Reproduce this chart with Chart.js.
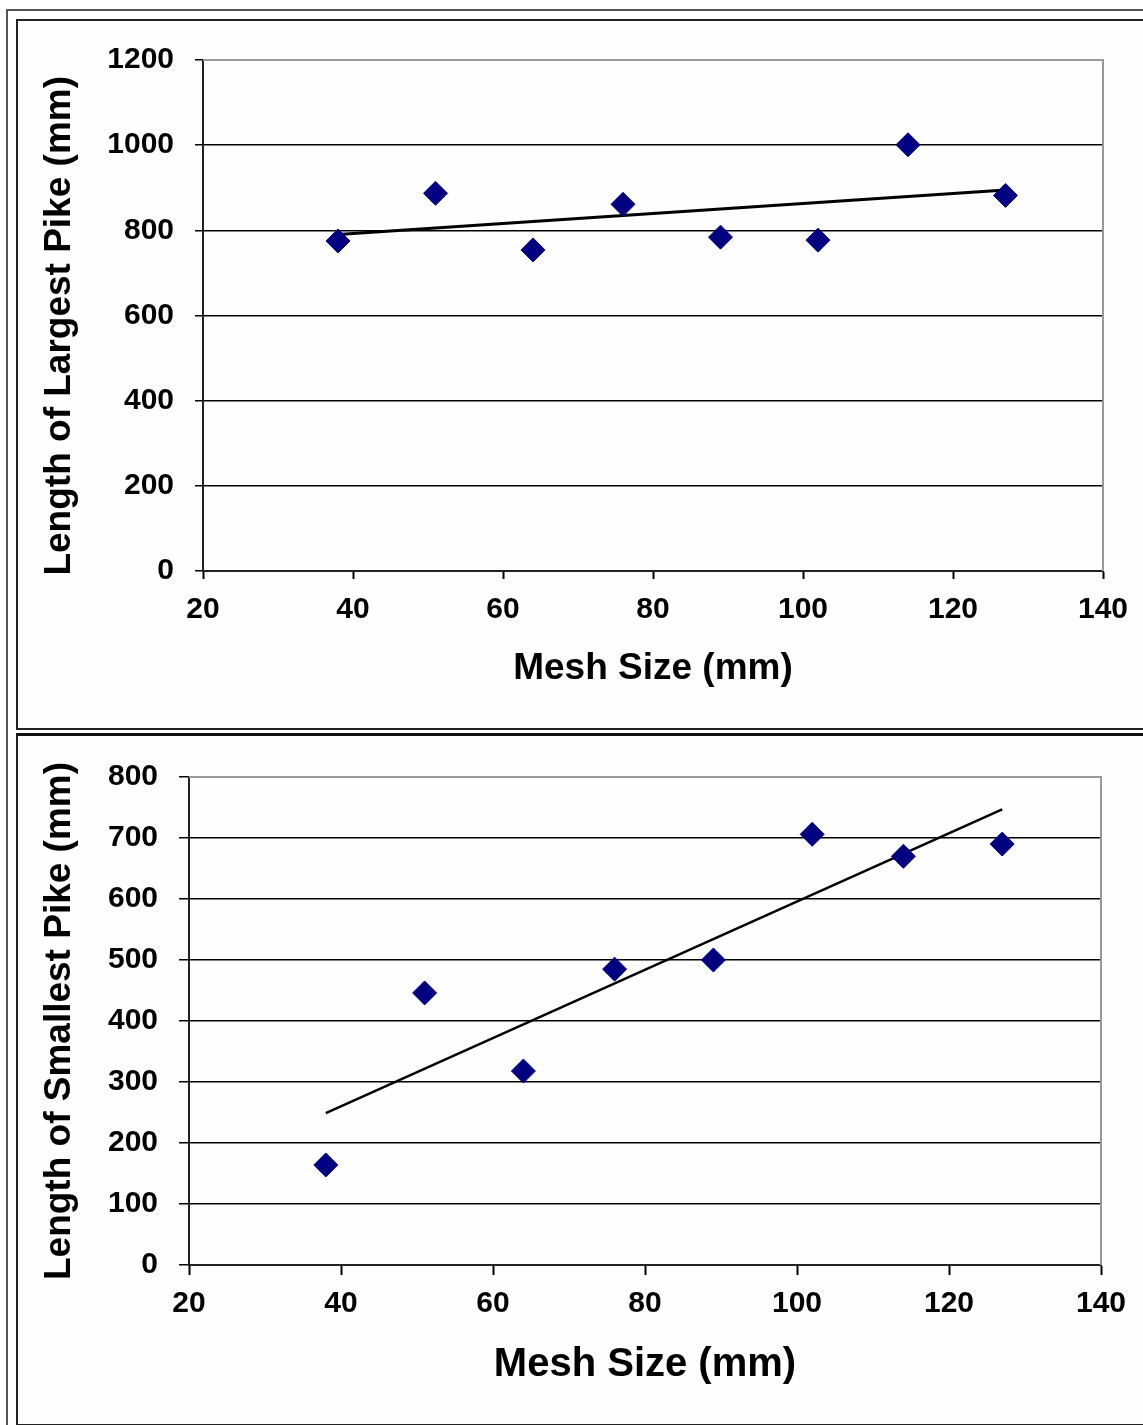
<!DOCTYPE html>
<html>
<head>
<meta charset="utf-8">
<script src="https://cdn.jsdelivr.net/npm/chart.js@4"></script>
<style>
  body { margin: 0; background: #fff; }
  .frame { position: absolute; left: 6px; top: 9px; width: 1200px; height: 1500px; border-left: 2px solid #555; border-top: 2px solid #555; }
  .box { position: absolute; left: 16px; width: 1200px; border: 2px solid #222; background: #fefefe; }
  #box1 { top: 19px; height: 707px; }
  #box2 { top: 733px; height: 688px; border-top: 3px solid #111; }
  canvas { position: absolute; left: 0; top: 0; }
</style>
</head>
<body>
<div class="frame"></div>
<div class="box" id="box1"><canvas id="chart1" width="1125" height="707"></canvas></div>
<div class="box" id="box2"><canvas id="chart2" width="1125" height="685"></canvas></div>
<script>
// mesh sizes (mm) used for both charts
var meshSizes = [38, 51, 64, 76, 89, 102, 114, 127];
// lengths (mm)
var largestPike = [775, 887, 754, 861, 784, 777, 1001, 882];
var smallestPike = [164, 446, 318, 485, 500, 706, 670, 690];
// trend line ends, at the first and last mesh size
var trendX = [38, 127];
var largestTrend = [790, 895];
var smallestTrend = [249, 747];

var fontFamily = "'Liberation Sans', Arial, sans-serif";

function toPoints(xs, ys) {
    return xs.map(function (x, i) { return { x: x, y: ys[i] }; });
}

// grey top and right edges of the plot area
var areaBorder = {
    id: 'areaBorder',
    afterDraw: function (chart) {
        var a = chart.chartArea, c = chart.ctx;
        c.save();
        c.strokeStyle = '#999';
        c.lineWidth = 2;
        c.beginPath();
        c.moveTo(a.left, a.top);
        c.lineTo(a.right, a.top);
        c.lineTo(a.right, a.bottom);
        c.stroke();
        c.restore();
    }
};

function plainNumber(v) { return String(v); }

function makeChart(id, values, trend, yTitle, opt) {
    var ctx = document.getElementById(id).getContext('2d');
    return new Chart(ctx, {
        type: 'scatter',
        data: {
            datasets: [
                {
                    data: toPoints(meshSizes, values),
                    pointStyle: 'rectRot',
                    pointRadius: 12,
                    backgroundColor: '#000080',
                    borderColor: '#000080',
                    borderWidth: 1,
                    showLine: false
                },
                {
                    data: toPoints(trendX, trend),
                    showLine: true,
                    pointRadius: 0,
                    borderColor: '#000',
                    borderWidth: opt.lineWidth
                }
            ]
        },
        options: {
            responsive: false,
            animation: false,
            devicePixelRatio: 1,
            layout: { padding: { left: 0, top: opt.top, right: opt.right, bottom: 0 } },
            plugins: { legend: { display: false }, tooltip: { enabled: false } },
            scales: {
                x: {
                    type: 'linear',
                    min: 20, max: 140,
                    afterFit: function (s) { s.height = opt.xHeight; },
                    ticks: { stepSize: 20, padding: opt.xTickPad, color: '#000', callback: plainNumber, font: { family: fontFamily, size: 30, weight: 'bold' } },
                    grid: { drawOnChartArea: false, drawTicks: true, tickLength: opt.tick, tickColor: '#000', tickWidth: 2 },
                    border: { display: true, color: '#222', width: 2 },
                    title: {
                        display: true,
                        text: 'Mesh Size (mm)',
                        color: '#000',
                        padding: { top: 0, bottom: opt.xTitlePad },
                        font: { family: fontFamily, size: opt.xTitleSize, weight: 'bold' }
                    }
                },
                y: {
                    min: 0, max: opt.yMax,
                    afterFit: function (s) { s.width = opt.yWidth; },
                    ticks: { stepSize: opt.yStep, padding: 21, color: '#000', callback: plainNumber, font: { family: fontFamily, size: 30, weight: 'bold' } },
                    grid: {
                        color: function (c) { return c.tick && c.tick.value === opt.yMax ? '#999' : '#000'; },
                        lineWidth: 1.5,
                        tickLength: opt.tick,
                        tickColor: '#000'
                    },
                    border: { display: true, color: '#222', width: 2 },
                    title: {
                        display: true,
                        text: yTitle,
                        color: '#000',
                        padding: { top: 20, bottom: 0 },
                        font: { family: fontFamily, size: 37, weight: 'bold' }
                    }
                }
            }
        },
        plugins: [areaBorder]
    });
}

makeChart('chart1', largestPike, largestTrend, 'Length of Largest Pike (mm)\u00a0\u00a0', {
    top: 36, right: 40, yWidth: 185, yMax: 1200, yStep: 200, xHeight: 157,
    tick: 8, xTickPad: 13, xTitlePad: 37, xTitleSize: 37, lineWidth: 3
});

makeChart('chart2', smallestPike, smallestTrend, 'Length of Smallest Pike (mm)', {
    top: 41, right: 42, yWidth: 171, yMax: 800, yStep: 100, xHeight: 156,
    tick: 10, xTickPad: 11, xTitlePad: 32, xTitleSize: 40, lineWidth: 2.5
});
</script>
</body>
</html>
